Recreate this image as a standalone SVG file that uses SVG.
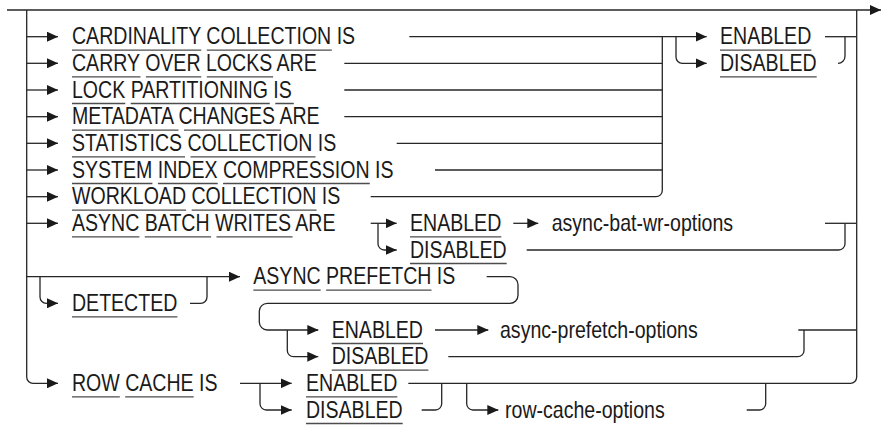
<svg xmlns="http://www.w3.org/2000/svg" width="882" height="426" viewBox="0 0 882 426">
<style>
.t{font-family:"Liberation Sans",Arial,sans-serif;font-size:24px;fill:#1a1a1a}
.u{stroke:#4d4d4d;stroke-width:1.3;fill:none}
.c{stroke:#262626;stroke-width:1.3;fill:none}
.a{marker-end:url(#ah)}
</style>
<defs>
<marker id="ah" markerUnits="userSpaceOnUse" viewBox="0 0 11 10" refX="11" refY="5" markerWidth="11" markerHeight="10" orient="auto">
<path d="M0,0 L11,5 L0,10 z" fill="#1a1a1a"/>
</marker>
</defs>
<rect width="882" height="426" fill="#fff"/>
<g id="connectors">
<path class="c a" d="M7,10 H881"/>
<path class="c" d="M26.7,10 V377 A6.3,6.3 0 0 0 33,383.3 H58" marker-end="url(#ah)"/>
<path class="c a" d="M26.7,36.7 H58"/>
<path class="c a" d="M26.7,63.3 H58"/>
<path class="c a" d="M26.7,90 H58"/>
<path class="c a" d="M26.7,116.7 H58"/>
<path class="c a" d="M26.7,143.3 H58"/>
<path class="c a" d="M26.7,170 H58"/>
<path class="c a" d="M26.7,196.7 H58"/>
<path class="c a" d="M26.7,223.3 H58"/>
<path class="c a" d="M26.7,276.7 H240"/>
<path class="c a" d="M40,276.7 V297 A6.3,6.3 0 0 0 46.3,303.3 H58"/>
<path class="c" d="M190,303.3 H200.7 A6.3,6.3 0 0 0 207,297 V276.7"/>
<path class="c a" d="M409.3,36.7 H706.7"/>
<path class="c" d="M344.3,63.3 H662.3"/>
<path class="c" d="M344.3,90 H662.3"/>
<path class="c" d="M344.3,116.7 H662.3"/>
<path class="c" d="M396.7,143.3 H662.3"/>
<path class="c" d="M435,170 H662.3"/>
<path class="c" d="M370.7,196.7 H656 A6.3,6.3 0 0 0 662.3,190.4 V36.7"/>
<path class="c a" d="M676,36.7 V57 A6.3,6.3 0 0 0 682.3,63.3 H706.7"/>
<path class="c" d="M825,36.7 H856.7"/>
<path class="c" d="M838,63.3 A7,7 0 0 0 845,56.3 V36.7"/>
<path class="c a" d="M370.7,223.3 H396.7"/>
<path class="c a" d="M378,223.3 V243.7 A6.3,6.3 0 0 0 384.3,250 H396.7"/>
<path class="c a" d="M513.3,223.3 H538.3"/>
<path class="c" d="M825,223.3 H856.7"/>
<path class="c" d="M526.7,250 H838.7 A6.3,6.3 0 0 0 845,243.7 V223.3"/>
<path class="c a" d="M486.7,276.7 H510 A8,8 0 0 1 518,284.7 V295.3 A8,8 0 0 1 510,303.3 H267.3 A8,8 0 0 0 259.3,311.3 V322 A8,8 0 0 0 267.3,330 H318.3"/>
<path class="c a" d="M287.3,330 V350.4 A6.3,6.3 0 0 0 293.6,356.7 H318.3"/>
<path class="c a" d="M435,330 H488.3"/>
<path class="c" d="M798.3,330 H856.7"/>
<path class="c" d="M448.3,356.7 H797.7 A6.3,6.3 0 0 0 804,350.4 V330"/>
<path class="c a" d="M240,383.3 H291.7"/>
<path class="c a" d="M260,383.3 V403.7 A6.3,6.3 0 0 0 266.3,410 H291.7"/>
<path class="c" d="M408.3,383.3 H850.4 A6.3,6.3 0 0 0 856.7,377 V10"/>
<path class="c" d="M421.7,410 H435.4 A6.3,6.3 0 0 0 441.7,403.7 V383.3"/>
<path class="c a" d="M466.7,383.3 V403.7 A6.3,6.3 0 0 0 473,410 H498.3"/>
<path class="c" d="M746.7,410 H759.4 A6.3,6.3 0 0 0 765.7,403.7 V383.3"/>
</g>
<g id="n1"><text class="t" transform="translate(72,44.2) scale(0.815,1)">CARDINALITY COLLECTION IS</text><path class="u" d="M72,50.2 H201.3 M206.8,50.2 H331.8"/></g>
<g id="n2"><text class="t" transform="translate(72,70.8) scale(0.815,1)">CARRY OVER LOCKS ARE</text><path class="u" d="M72,76.8 H140.5 M145.9,76.8 H201.3 M206.8,76.8 H273.1"/></g>
<g id="n3"><text class="t" transform="translate(72,97.5) scale(0.815,1)">LOCK PARTITIONING IS</text><path class="u" d="M72,103.5 H125.3 M130.7,103.5 H269.8 M275.3,103.5 H293.8"/></g>
<g id="n4"><text class="t" transform="translate(72,124.2) scale(0.815,1)">METADATA CHANGES ARE</text><path class="u" d="M72,130.2 H178.5 M184,130.2 H280.7"/></g>
<g id="n5"><text class="t" transform="translate(72,150.8) scale(0.815,1)">STATISTICS COLLECTION IS</text><path class="u" d="M72,156.8 H185 M190.5,156.8 H315.5"/></g>
<g id="n6"><text class="t" transform="translate(72,177.5) scale(0.815,1)">SYSTEM INDEX COMPRESSION IS</text><path class="u" d="M72,183.5 H152.4 M157.9,183.5 H217.7 M223.1,183.5 H369.8"/></g>
<g id="n7"><text class="t" transform="translate(72,204.2) scale(0.815,1)">WORKLOAD COLLECTION IS</text><path class="u" d="M72,210.2 H186.1 M191.6,210.2 H316.6"/></g>
<g id="n8"><text class="t" transform="translate(72,230.8) scale(0.815,1)">ASYNC BATCH WRITES ARE</text><path class="u" d="M72,236.8 H139.4 M144.8,236.8 H211.1 M216.5,236.8 H292.6"/></g>
<g id="e1"><text class="t" transform="translate(720,44.2) scale(0.815,1)">ENABLED</text><path class="u" d="M720,50.2 H811.3"/></g>
<g id="d1"><text class="t" transform="translate(720,70.8) scale(0.815,1)">DISABLED</text><path class="u" d="M720,76.8 H816.7"/></g>
<g id="e2"><text class="t" transform="translate(410,230.8) scale(0.815,1)">ENABLED</text><path class="u" d="M410,236.8 H501.3"/></g>
<g id="d2"><text class="t" transform="translate(410,257.5) scale(0.815,1)">DISABLED</text><path class="u" d="M410,263.5 H506.7"/></g>
<g id="o1"><text class="t" transform="translate(551.7,230.8) scale(0.815,1)">async-bat-wr-options</text></g>
<g id="n10"><text class="t" transform="translate(253.3,284.2) scale(0.815,1)">ASYNC PREFETCH IS</text><path class="u" d="M253.3,290.2 H320.7 M326.1,290.2 H431.5"/></g>
<g id="n11"><text class="t" transform="translate(72,310.8) scale(0.815,1)">DETECTED</text><path class="u" d="M72,316.8 H177.4"/></g>
<g id="e3"><text class="t" transform="translate(331.7,337.5) scale(0.815,1)">ENABLED</text><path class="u" d="M331.7,343.5 H423"/></g>
<g id="d3"><text class="t" transform="translate(331.7,364.2) scale(0.815,1)">DISABLED</text><path class="u" d="M331.7,370.2 H428.4"/></g>
<g id="o2"><text class="t" transform="translate(500,337.5) scale(0.815,1)">async-prefetch-options</text></g>
<g id="n15"><text class="t" transform="translate(72,390.8) scale(0.815,1)">ROW CACHE IS</text><path class="u" d="M72,396.8 H119.8 M125.2,396.8 H193.7"/></g>
<g id="e4"><text class="t" transform="translate(306,390.8) scale(0.815,1)">ENABLED</text><path class="u" d="M306,396.8 H397.3"/></g>
<g id="d4"><text class="t" transform="translate(306,417.5) scale(0.815,1)">DISABLED</text><path class="u" d="M306,423.5 H402.7"/></g>
<g id="o3"><text class="t" transform="translate(505,417.5) scale(0.815,1)">row-cache-options</text></g>
</svg>
